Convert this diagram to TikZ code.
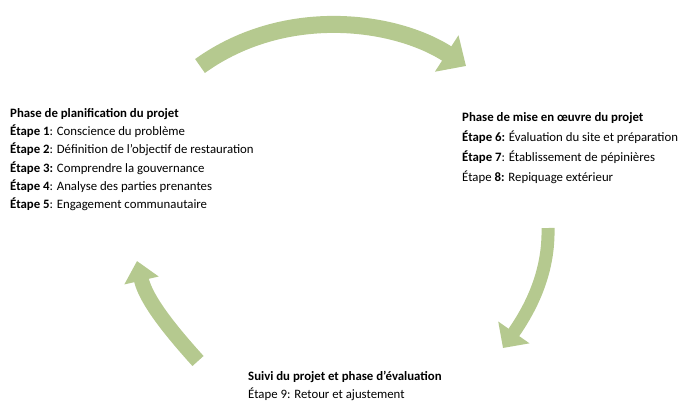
\documentclass[tikz,border=0pt]{standalone}
\usepackage{fontspec}
\setmainfont{Carlito}
\usetikzlibrary{arrows.meta}
\definecolor{arrowgreen}{RGB}{181,201,143}
\tikzset{
  cyclearrow/.style={draw=arrowgreen, line cap=butt},
  phasetext/.style={align=left, anchor=north west, inner sep=0pt, font=\fontsize{12.8}{18.3}\selectfont, text=black}
}
\begin{document}
\begin{tikzpicture}[x=1pt,y=-1pt]
\useasboundingbox (0,0) rectangle (686,400);
% arrows
\coordinate (t1) at (200,66);
\coordinate (h1) at (466,66);
\draw[cyclearrow, line width=17pt, -{Triangle[width=42pt,length=23pt]}] (t1) .. controls (285,5) and (395,20) .. (h1);
\coordinate (t2) at (548,228);
\coordinate (h2) at (503,348);
\draw[cyclearrow, line width=13pt, -{Triangle[width=37pt,length=19pt]}] (t2) .. controls (549,270) and (533,305) .. (h2);
\coordinate (t3) at (198,361);
\coordinate (h3) at (137,261);
\draw[cyclearrow, line width=15pt, -{Triangle[width=34pt,length=20pt]}] (t3) .. controls (170,330) and (146,300) .. (h3);
% texts
\node[phasetext] (plan) at (10,108) {\textbf{Phase de planification du projet}\\
\textbf{Étape 1}: Conscience du problème\\
\textbf{Étape 2}: Définition de l’objectif de restauration\\
\textbf{Étape 3:} Comprendre la gouvernance\\
\textbf{Étape 4}: Analyse des parties prenantes\\
\textbf{Étape 5}: Engagement communautaire};
\node[phasetext, font=\fontsize{12.8}{20.2}\selectfont] (mise) at (462,112) {\textbf{Phase de mise en œuvre du projet}\\
\textbf{Étape 6:} Évaluation du site et préparation\\
\textbf{Étape 7}: Établissement de pépinières\\
Étape \textbf{8:} Repiquage extérieur};
\node[phasetext] (suivi) at (248,370.5) {\textbf{Suivi du projet et phase d’évaluation}\\
Étape 9: Retour et ajustement};
\end{tikzpicture}
\end{document}
